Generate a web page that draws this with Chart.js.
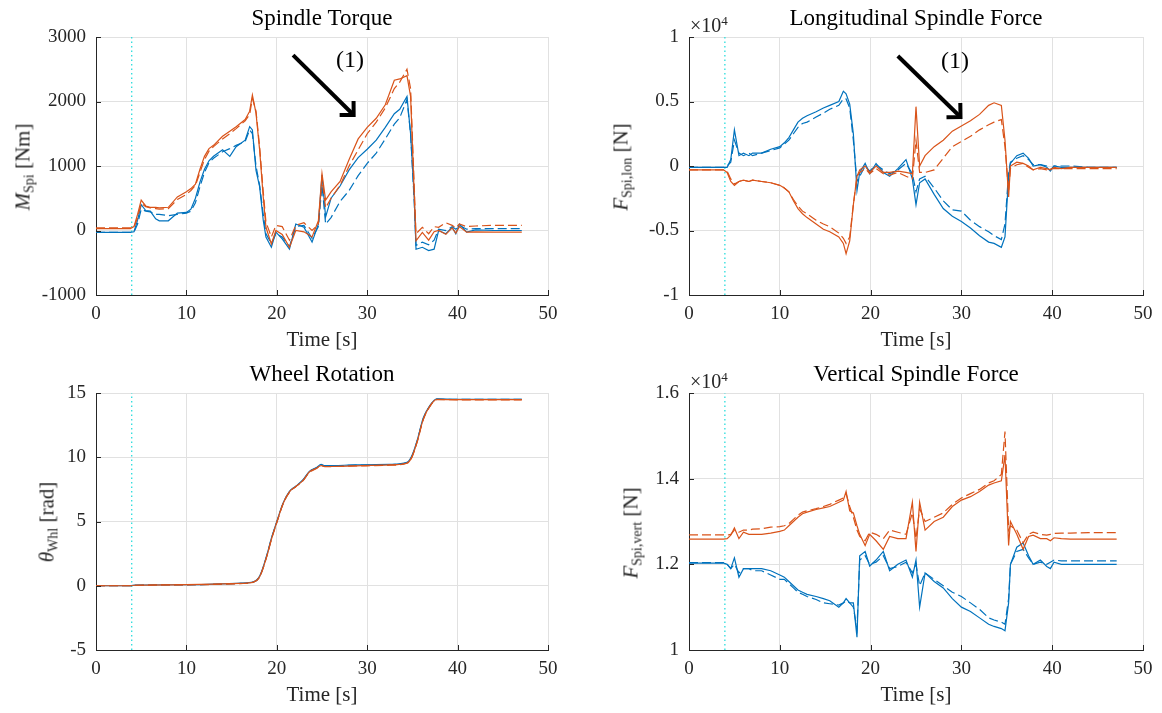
<!DOCTYPE html>
<html>
<head>
<meta charset="utf-8">
<script src="https://cdn.jsdelivr.net/npm/chart.js@4.4.1/dist/chart.umd.min.js"></script>
<style>
  body { margin: 0; background: #fff; width: 1162px; height: 713px; position: relative; overflow: hidden;
         font-family: 'Liberation Serif', 'Times New Roman', serif; color: #262626; }
  canvas { position: absolute; }
  .ylab { position: absolute; transform: translate(-50%, -50%) rotate(-90deg); white-space: nowrap; font-size: 21px; }
  .ylab sub { font-size: 14px; vertical-align: -4px; }
  .exp { position: absolute; font-size: 20px; white-space: nowrap; }
  .exp sup { font-size: 13px; vertical-align: 7px; }
</style>
</head>
<body>
<canvas id="torque" width="581" height="358" style="left:0;top:0"></canvas>
<canvas id="lon" width="581" height="358" style="left:581px;top:0"></canvas>
<canvas id="wheel" width="581" height="357" style="left:0;top:356px"></canvas>
<canvas id="vert" width="581" height="357" style="left:581px;top:356px"></canvas>

<div class="ylab" style="left:24px;top:167px"><i>M</i><sub>Spi</sub> [Nm]</div>
<div class="ylab" style="left:622px;top:167px"><i>F</i><sub>Spi,lon</sub> [N]</div>
<div class="ylab" style="left:48px;top:522px"><i>θ</i><sub>Whl</sub> [rad]</div>
<div class="ylab" style="left:632px;top:533px"><i>F</i><sub>Spi,vert</sub> [N]</div>
<div class="exp" style="left:690px;top:13px">×10<sup>4</sup></div>
<div class="exp" style="left:690px;top:369px">×10<sup>4</sup></div>

<script>
// --- data ---
const T = [0, 3.8, 4.2, 4.6, 5, 5.5, 6, 6.6, 7, 8,
  9, 10, 10.5, 11, 11.5, 12, 12.5, 13, 14, 14.8,
  15.5, 16.5, 17, 17.3, 17.7, 18.1, 18.5, 18.8, 19.4, 19.9,
  20.6, 21.4, 22.1, 23, 23.9, 24.6, 25, 25.4, 26, 27,
  28, 29, 30, 31, 32, 33, 33.6, 34.4, 34.8, 35.2,
  35.4, 36.1, 36.8, 37.4, 37.9, 38.7, 39.4, 39.8, 40.2, 41,
  42, 44, 47.1]

const torqueBlueSolid = [-30, -30, -20, 160, 400, 310, 300, 180, 150, 150,
  270, 280, 330, 500, 750, 950, 1080, 1150, 1250, 1150,
  1300, 1400, 1610, 1560, 930, 680, 160, -100, -260, -25,
  -130, -290, 100, 50, -180, 100, 860, 210, 500, 690,
  940, 1130, 1260, 1400, 1600, 1810, 1880, 2080, 1500, 520,
  -290, -260, -310, -290, 0, -50, 50, -50, 100, -25,
  10, 0, 0]
const torqueBlueDashed = [-30, -30, -25, 100, 330, 300, 290, 250, 250, 230,
  250, 270, 300, 430, 680, 900, 1050, 1120, 1220, 1270,
  1320, 1380, 1560, 1500, 1000, 700, 250, -50, -200, -50,
  -100, -250, 60, 80, -120, 60, 700, 100, 200, 450,
  620, 850, 1040, 1200, 1420, 1650, 1750, 2030, 1500, 450,
  -230, -180, -220, -150, 20, 0, 60, 20, 80, 20,
  30, 30, 30]
const torqueOrangeSolid = [30, 30, 60, 250, 470, 380, 360, 360, 350, 360,
  520, 600, 650, 720, 950, 1150, 1270, 1320, 1460, 1540,
  1610, 1720, 1850, 2100, 1820, 1250, 520, 50, -210, 0,
  -60, -260, 0, -20, -100, 150, 880, 470, 600, 760,
  1100, 1420, 1600, 1740, 1950, 2330, 2350, 2400, 2080, 570,
  -160, -30, -150, -20, 0, -60, 40, -40, 60, -25,
  -20, -25, -25]
const torqueOrangeDashed = [40, 40, 50, 200, 420, 370, 350, 340, 330, 340,
  480, 560, 620, 700, 900, 1100, 1230, 1300, 1420, 1500,
  1580, 1700, 1800, 2050, 1850, 1300, 600, 130, -100, 80,
  60, -150, 80, 120, 0, 100, 800, 350, 500, 700,
  1000, 1250, 1500, 1680, 1900, 2200, 2300, 2500, 2200, 700,
  -50, 50, -50, 60, 50, 120, 80, 40, 100, 60,
  70, 80, 80]

// longitudinal force, in units of 10^4 N
const lonBlueSolid = [-0.01, -0.01, -0.01, 0.05, 0.28, 0.08, 0.1, 0.08, 0.1, 0.1,
  0.13, 0.15, 0.18, 0.22, 0.28, 0.34, 0.37, 0.39, 0.42, 0.45,
  0.47, 0.5, 0.58, 0.56, 0.48, 0.25, -0.19, -0.05, 0.02, -0.06,
  0.02, -0.05, -0.08, -0.02, 0.05, -0.1, -0.3, -0.13, -0.1, -0.22,
  -0.33, -0.39, -0.43, -0.48, -0.54, -0.59, -0.6, -0.63, -0.55, -0.08,
  0.02, 0.08, 0.1, 0.06, 0, 0.01, -0.01, -0.04, 0, -0.01,
  -0.01, -0.01, -0.01]
const lonBlueDashed = [-0.01, -0.01, 0, 0.03, 0.2, 0.1, 0.08, 0.1, 0.08, 0.1,
  0.12, 0.14, 0.17, 0.2, 0.25, 0.3, 0.33, 0.34, 0.38, 0.41,
  0.44, 0.47, 0.52, 0.52, 0.45, 0.2, -0.12, -0.08, 0, -0.04,
  0.01, -0.03, -0.06, -0.03, 0.02, -0.06, -0.2, -0.1, -0.08, -0.17,
  -0.27, -0.34, -0.35, -0.42, -0.47, -0.51, -0.54, -0.57, -0.45, -0.05,
  0.03, 0.06, 0.08, 0.05, 0.01, 0.01, 0, -0.03, 0, 0,
  0, -0.01, -0.01]
const lonOrangeSolid = [-0.03, -0.03, -0.05, -0.12, -0.15, -0.12, -0.11, -0.12, -0.11, -0.12,
  -0.13, -0.15, -0.17, -0.2, -0.27, -0.33, -0.37, -0.4, -0.45, -0.49,
  -0.51, -0.55, -0.6, -0.68, -0.58, -0.3, -0.08, -0.03, 0, -0.05,
  0, -0.05, -0.05, -0.04, -0.05, -0.06, 0.46, 0, 0.08, 0.15,
  0.2, 0.27, 0.31, 0.35, 0.4, 0.47, 0.49, 0.47, 0.2, -0.24,
  0, 0.03, 0.02, 0, -0.03, -0.01, -0.02, -0.03, -0.01, -0.02,
  -0.01, -0.01, -0.01]
const lonOrangeDashed = [-0.03, -0.03, -0.04, -0.1, -0.14, -0.12, -0.11, -0.12, -0.11, -0.12,
  -0.13, -0.15, -0.17, -0.2, -0.26, -0.31, -0.35, -0.37, -0.42, -0.45,
  -0.47, -0.52, -0.56, -0.6, -0.55, -0.3, -0.08, -0.05, -0.02, -0.06,
  -0.02, -0.06, -0.07, -0.05, -0.08, -0.1, 0.2, -0.05, -0.05, -0.03,
  0.06, 0.15, 0.19, 0.23, 0.28, 0.32, 0.34, 0.36, 0.15, -0.2,
  -0.02, 0.01, 0.02, -0.01, -0.03, -0.02, -0.03, -0.02, -0.02, -0.02,
  -0.02, -0.02, -0.02]

// vertical force, in units of 10^4 N
const vertBlueSolid = [1.203, 1.203, 1.2, 1.19, 1.215, 1.17, 1.19, 1.19, 1.19, 1.19,
  1.185, 1.175, 1.17, 1.16, 1.15, 1.14, 1.135, 1.13, 1.125, 1.12,
  1.115, 1.1, 1.11, 1.12, 1.11, 1.11, 1.03, 1.22, 1.23, 1.196,
  1.21, 1.23, 1.185, 1.2, 1.21, 1.17, 1.21, 1.1, 1.18, 1.16,
  1.145, 1.12, 1.1, 1.09, 1.075, 1.06, 1.055, 1.05, 1.045, 1.11,
  1.2, 1.24, 1.25, 1.22, 1.2, 1.21, 1.195, 1.19, 1.205, 1.2,
  1.2, 1.2, 1.2]
const vertBlueDashed = [1.204, 1.204, 1.2, 1.19, 1.2, 1.18, 1.19, 1.19, 1.185, 1.185,
  1.175, 1.165, 1.165, 1.155, 1.145, 1.135, 1.13, 1.125, 1.118, 1.11,
  1.108, 1.105, 1.11, 1.115, 1.11, 1.1, 1.05, 1.21, 1.22, 1.2,
  1.205, 1.22, 1.19, 1.195, 1.205, 1.18, 1.2, 1.15, 1.18, 1.165,
  1.15, 1.135, 1.125, 1.11, 1.095, 1.075, 1.07, 1.065, 1.06, 1.12,
  1.2, 1.23, 1.235, 1.215, 1.2, 1.205, 1.2, 1.205, 1.21, 1.208,
  1.208, 1.208, 1.208]
const vertOrangeSolid = [1.259, 1.259, 1.26, 1.268, 1.285, 1.26, 1.275, 1.27, 1.27, 1.27,
  1.273, 1.277, 1.28, 1.29, 1.3, 1.31, 1.318, 1.322, 1.328, 1.332,
  1.335, 1.345, 1.35, 1.37, 1.325, 1.32, 1.29, 1.27, 1.244, 1.27,
  1.255, 1.235, 1.265, 1.26, 1.26, 1.345, 1.23, 1.345, 1.28, 1.3,
  1.31, 1.335, 1.35, 1.358, 1.37, 1.385, 1.39, 1.395, 1.455, 1.244,
  1.3, 1.27, 1.235, 1.265, 1.268, 1.26, 1.26, 1.255, 1.262, 1.26,
  1.259, 1.259, 1.259]
const vertOrangeDashed = [1.269, 1.269, 1.268, 1.27, 1.28, 1.275, 1.28, 1.28, 1.282, 1.283,
  1.287, 1.288, 1.29, 1.295, 1.305, 1.315, 1.322, 1.325, 1.33, 1.335,
  1.34, 1.35, 1.355, 1.365, 1.335, 1.31, 1.28, 1.265, 1.255, 1.275,
  1.27, 1.26, 1.28, 1.275, 1.27, 1.32, 1.26, 1.33, 1.3, 1.31,
  1.32, 1.34, 1.355, 1.365, 1.375, 1.39, 1.395, 1.41, 1.51, 1.28,
  1.29, 1.28, 1.25, 1.27, 1.275, 1.27, 1.268, 1.27, 1.272, 1.273,
  1.273, 1.274, 1.274]

const TW = [0, 3.8, 4.3, 10, 16, 17.4, 18.1, 18.9, 19.4, 20,
  20.7, 21.4, 22.1, 22.9, 23.6, 24.4, 24.9, 25.3, 28.8, 32.5,
  34.4, 34.9, 35.5, 36.2, 37, 37.7, 39.9, 47.1]
const wheelBlueSolid = [0, 0, 0.05, 0.08, 0.2, 0.3, 0.75, 2.4, 3.7, 5.0,
  6.45, 7.35, 7.75, 8.25, 8.9, 9.2, 9.45, 9.35, 9.4, 9.45,
  9.6, 10.05, 11.25, 13.05, 14.1, 14.55, 14.5, 14.5]
const wheelBlueDashed = [0, 0, 0.04, 0.07, 0.18, 0.28, 0.7, 2.35, 3.65, 4.95,
  6.4, 7.3, 7.72, 8.2, 8.85, 9.18, 9.4, 9.32, 9.38, 9.43,
  9.58, 10.0, 11.2, 13.0, 14.05, 14.52, 14.5, 14.5]
const wheelOrangeSolid = [0, 0, 0.04, 0.08, 0.18, 0.28, 0.7, 2.3, 3.6, 4.95,
  6.4, 7.3, 7.72, 8.2, 8.85, 9.15, 9.35, 9.28, 9.33, 9.4,
  9.55, 9.95, 11.15, 12.95, 14.05, 14.5, 14.48, 14.48]
const wheelOrangeDashed = [0, 0, 0.04, 0.07, 0.17, 0.27, 0.68, 2.3, 3.6, 4.9,
  6.38, 7.28, 7.7, 8.18, 8.82, 9.13, 9.33, 9.27, 9.32, 9.38,
  9.53, 9.93, 11.12, 12.92, 14.02, 14.48, 14.47, 14.47]

const xTicks = [0, 10, 20, 30, 40, 50]
const torqueTicks = [-1000, 0, 1000, 2000, 3000]
const lonTicks = [-1, -0.5, 0, 0.5, 1]
const wheelTicks = [-5, 0, 5, 10, 15]
const vertTicks = [1, 1.2, 1.4, 1.6]

const startTime = 3.95   // dotted marker
// arrow annotation: [x0, y0, x1, y1], label "(1)" position [x, y]
const torqueArrow = [21.8, 2720, 28.5, 1790]
const torqueNote = [28.1, 2625]
const lonArrow = [23.0, 0.853, 29.9, 0.38]
const lonNote = [29.3, 0.806]

// --- styling ---
const SERIF = "'Liberation Serif', 'Times New Roman', serif"
const BLUE = '#0072BD'
const ORANGE = '#D95319'
const AX = '#262626'
const GRID = '#e1e1e1'

function line(xs, ys, color, dashed) {
  return {
    data: xs.map((x, i) => ({ x, y: ys[i] })),
    borderColor: color,
    borderWidth: 1.2,
    borderDash: dashed ? [9, 4] : [],
    pointRadius: 0,
    tension: 0,
    fill: false,
  }
}

// inward ticks + arrow annotation
const extras = {
  id: 'extras',
  afterDraw(chart, args, o) {
    const { ctx, chartArea: a, scales: { x, y } } = chart
    ctx.save()
    ctx.strokeStyle = AX
    ctx.lineWidth = 1
    ctx.beginPath()
    for (const t of x.ticks) {
      const px = Math.round(x.getPixelForValue(t.value)) + 0.5
      ctx.moveTo(px, a.bottom); ctx.lineTo(px, a.bottom - 5)
    }
    for (const t of y.ticks) {
      const py = Math.round(y.getPixelForValue(t.value)) + 0.5
      ctx.moveTo(a.left, py); ctx.lineTo(a.left + 5, py)
    }
    ctx.stroke()
    if (o.arrow) {
      const [x0, y0, x1, y1] = o.arrow
      const p0 = [x.getPixelForValue(x0), y.getPixelForValue(y0)]
      const p1 = [x.getPixelForValue(x1), y.getPixelForValue(y1)]
      const ang = Math.atan2(p1[1] - p0[1], p1[0] - p0[0])
      ctx.strokeStyle = '#000'
      ctx.lineWidth = 4
      ctx.lineCap = 'butt'
      ctx.beginPath()
      ctx.moveTo(p0[0], p0[1]); ctx.lineTo(p1[0], p1[1])
      ctx.stroke()
      ctx.lineJoin = 'miter'
      ctx.beginPath()
      const L = 14
      ctx.moveTo(p1[0] - L * Math.cos(ang - Math.PI / 4), p1[1] - L * Math.sin(ang - Math.PI / 4))
      ctx.lineTo(p1[0], p1[1])
      ctx.lineTo(p1[0] - L * Math.cos(ang + Math.PI / 4), p1[1] - L * Math.sin(ang + Math.PI / 4))
      ctx.stroke()
      ctx.fillStyle = '#000'
      ctx.font = `24px ${SERIF}`
      ctx.textAlign = 'center'
      ctx.textBaseline = 'middle'
      ctx.fillText('(1)', x.getPixelForValue(o.note[0]), y.getPixelForValue(o.note[1]))
    }
    ctx.restore()
  },
}

function makeChart(id, cfg) {
  const datasets = [
    line(cfg.t, cfg.os, ORANGE, false),
    line(cfg.t, cfg.od, ORANGE, true),
    line(cfg.t, cfg.bs, BLUE, false),
    line(cfg.t, cfg.bd, BLUE, true),
    {
      data: [{ x: startTime, y: cfg.min }, { x: startTime, y: cfg.max }],
      borderColor: '#2adddd', borderWidth: 1.3, borderDash: [1.5, 3], pointRadius: 0,
    },
  ]
  if (cfg.smooth) datasets.slice(0, 4).forEach(d => { d.cubicInterpolationMode = 'monotone' })
  return new Chart(document.getElementById(id), {
    type: 'line',
    data: { datasets },
    plugins: [extras],
    options: {
      responsive: false,
      animation: false,
      events: [],
      layout: { padding: { left: 0, right: cfg.right, top: 0, bottom: 0 } },
      plugins: {
        legend: { display: false },
        tooltip: { enabled: false },
        title: {
          display: true, text: cfg.title, fullSize: false, color: '#000',
          font: { family: SERIF, size: 23, weight: 'normal', lineHeight: 1.2 },
          padding: { top: 5, bottom: 4.4 },
        },
        extras: { arrow: cfg.arrow, note: cfg.note },
      },
      scales: {
        x: {
          type: 'linear', min: 0, max: 50,
          afterBuildTicks: s => { s.ticks = xTicks.map(v => ({ value: v })) },
          afterFit: s => { s.height = 63 },
          grid: { color: GRID, drawTicks: false },
          border: { color: AX },
          ticks: { color: AX, font: { family: SERIF, size: 19 }, padding: 8, maxRotation: 0, autoSkip: false },
          title: { display: true, text: 'Time [s]', color: AX, font: { family: SERIF, size: 21, lineHeight: 1.2 }, padding: { top: 0, bottom: 5.4 } },
        },
        y: {
          type: 'linear', min: cfg.min, max: cfg.max,
          afterBuildTicks: s => { s.ticks = cfg.ticks.map(v => ({ value: v })) },
          afterFit: s => { s.width = cfg.left },
          grid: { color: GRID, drawTicks: false },
          border: { color: AX },
          ticks: { color: AX, font: { family: SERIF, size: 19 }, padding: 10, autoSkip: false, callback: v => String(v) },
        },
      },
    },
  })
}

makeChart('torque', {
  title: 'Spindle Torque', t: T,
  bs: torqueBlueSolid, bd: torqueBlueDashed, os: torqueOrangeSolid, od: torqueOrangeDashed,
  min: -1000, max: 3000, ticks: torqueTicks, left: 96, right: 33,
  arrow: torqueArrow, note: torqueNote,
})
makeChart('lon', {
  title: 'Longitudinal Spindle Force', t: T,
  bs: lonBlueSolid, bd: lonBlueDashed, os: lonOrangeSolid, od: lonOrangeDashed,
  min: -1, max: 1, ticks: lonTicks, left: 108, right: 19,
  arrow: lonArrow, note: lonNote,
})
makeChart('wheel', {
  title: 'Wheel Rotation', t: TW, smooth: true,
  bs: wheelBlueSolid, bd: wheelBlueDashed, os: wheelOrangeSolid, od: wheelOrangeDashed,
  min: -5, max: 15, ticks: wheelTicks, left: 96, right: 33,
})
makeChart('vert', {
  title: 'Vertical Spindle Force', t: T,
  bs: vertBlueSolid, bd: vertBlueDashed, os: vertOrangeSolid, od: vertOrangeDashed,
  min: 1, max: 1.6, ticks: vertTicks, left: 108, right: 19,
})
</script>
</body>
</html>
